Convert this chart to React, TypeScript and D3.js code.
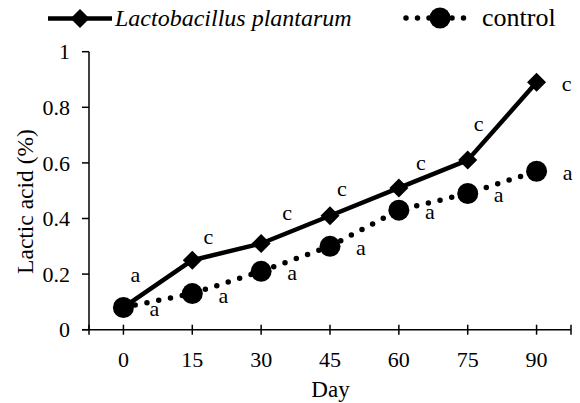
import React from "react";
import * as d3 from "d3";

const days = [0, 15, 30, 45, 60, 75, 90];
const plantarum = [0.08, 0.25, 0.31, 0.41, 0.51, 0.61, 0.89];
const control = [0.08, 0.13, 0.21, 0.30, 0.43, 0.49, 0.57];
const plantarumLetters = ["a", "c", "c", "c", "c", "c", "c"];
const controlLetters = ["a", "a", "a", "a", "a", "a", "a"];
const yTicks = [0, 0.2, 0.4, 0.6, 0.8, 1];
const seriesNames = ["Lactobacillus plantarum", "control"];
const xTitle = "Day";
const yTitle = "Lactic acid (%)";

// label offsets (pixels) for annotation letters
const plantarumLabelDx = [12, 16, 26, 12, 22, 11, 30];
const plantarumLabelDy = [-31, -22, -30, -26, -24, -35, 3];
const controlLabelDx = 31;
const controlLabelDy = 3;

const W = 580;
const H = 403;
const left = 89;
const right = 571;
const top = 51.7;
const bottom = 329.7;
const FONT = "Liberation Serif";

export default function App() {
  const x = d3.scalePoint<number>().domain(days).range([left, right]).padding(0.5);
  const y = d3.scaleLinear().domain([0, 1]).range([bottom, top]);

  const lineGen = d3
    .line<number>()
    .x((_, i) => x(days[i]) as number)
    .y((d) => y(d));

  const diamond = (cx: number, cy: number, r: number) =>
    `M${cx},${cy - r}L${cx + r},${cy}L${cx},${cy + r}L${cx - r},${cy}Z`;

  const xTickPos = [left, ...days.map((d) => x(d) as number), right];

  return (
    <svg
      width={W}
      height={H}
      style={{ position: "absolute", left: 0, top: 0, background: "#fff" }}
    >
      <rect width={W} height={H} fill="#fff" />
      {/* axes */}
      <line x1={left} x2={left} y1={top} y2={bottom} stroke="#000" strokeWidth={1.5} />
      <line x1={82} x2={right} y1={bottom} y2={bottom} stroke="#000" strokeWidth={1.5} />
      {yTicks.map((t) => (
        <g key={t}>
          <line x1={82} x2={left} y1={y(t)} y2={y(t)} stroke="#000" strokeWidth={1.5} />
          <text x={70} y={y(t) + 7.6} textAnchor="end" fontSize={22} fontFamily={FONT}>
            {String(t)}
          </text>
        </g>
      ))}
      {xTickPos.map((p, i) => (
        <line key={i} x1={p} x2={p} y1={bottom - 5} y2={bottom + 5} stroke="#000" strokeWidth={1.5} />
      ))}
      {days.map((d) => (
        <text key={d} x={x(d) as number} y={367} textAnchor="middle" fontSize={22} fontFamily={FONT}>
          {String(d)}
        </text>
      ))}
      <text x={330.5} y={396.5} textAnchor="middle" fontSize={23} fontFamily={FONT}>
        {xTitle}
      </text>
      <text
        transform={`translate(33,201.5) rotate(-90)`}
        textAnchor="middle"
        fontSize={23.5}
        fontFamily={FONT}
      >
        {yTitle}
      </text>

      {/* control series */}
      <path
        d={lineGen(control) || ""}
        fill="none"
        stroke="#000"
        strokeWidth={5.5}
        strokeLinecap="round"
        strokeDasharray="0 12"
      />
      {control.map((v, i) => (
        <circle key={i} cx={x(days[i]) as number} cy={y(v)} r={10.5} fill="#000" />
      ))}

      {/* plantarum series */}
      <path d={lineGen(plantarum) || ""} fill="none" stroke="#000" strokeWidth={4.5} strokeLinejoin="round" />
      {plantarum.map((v, i) => (
        <path key={i} d={diamond(x(days[i]) as number, y(v), 9.5)} fill="#000" />
      ))}

      {/* letters */}
      {plantarum.map((v, i) => (
        <text
          key={i}
          x={(x(days[i]) as number) + plantarumLabelDx[i]}
          y={y(v) + plantarumLabelDy[i] + 6}
          textAnchor="middle"
          fontSize={22}
          fontFamily={FONT}
        >
          {plantarumLetters[i]}
        </text>
      ))}
      {control.map((v, i) => (
        <text
          key={i}
          x={(x(days[i]) as number) + controlLabelDx}
          y={y(v) + controlLabelDy + 6}
          textAnchor="middle"
          fontSize={22}
          fontFamily={FONT}
        >
          {controlLetters[i]}
        </text>
      ))}

      {/* legend */}
      <line x1={48} x2={112} y1={18.5} y2={18.5} stroke="#000" strokeWidth={4.5} />
      <path d={diamond(80, 18.5, 9.5)} fill="#000" />
      <text x={115} y={26} fontSize={24} fontStyle="italic" fontFamily={FONT}>
        {seriesNames[0]}
      </text>
      <line
        x1={406}
        x2={475}
        y1={18}
        y2={18}
        stroke="#000"
        strokeWidth={5.5}
        strokeLinecap="round"
        strokeDasharray="0 11.5"
      />
      <circle cx={440} cy={18} r={10.5} fill="#000" />
      <text x={482} y={26} fontSize={26} fontFamily={FONT}>
        {seriesNames[1]}
      </text>
    </svg>
  );
}
